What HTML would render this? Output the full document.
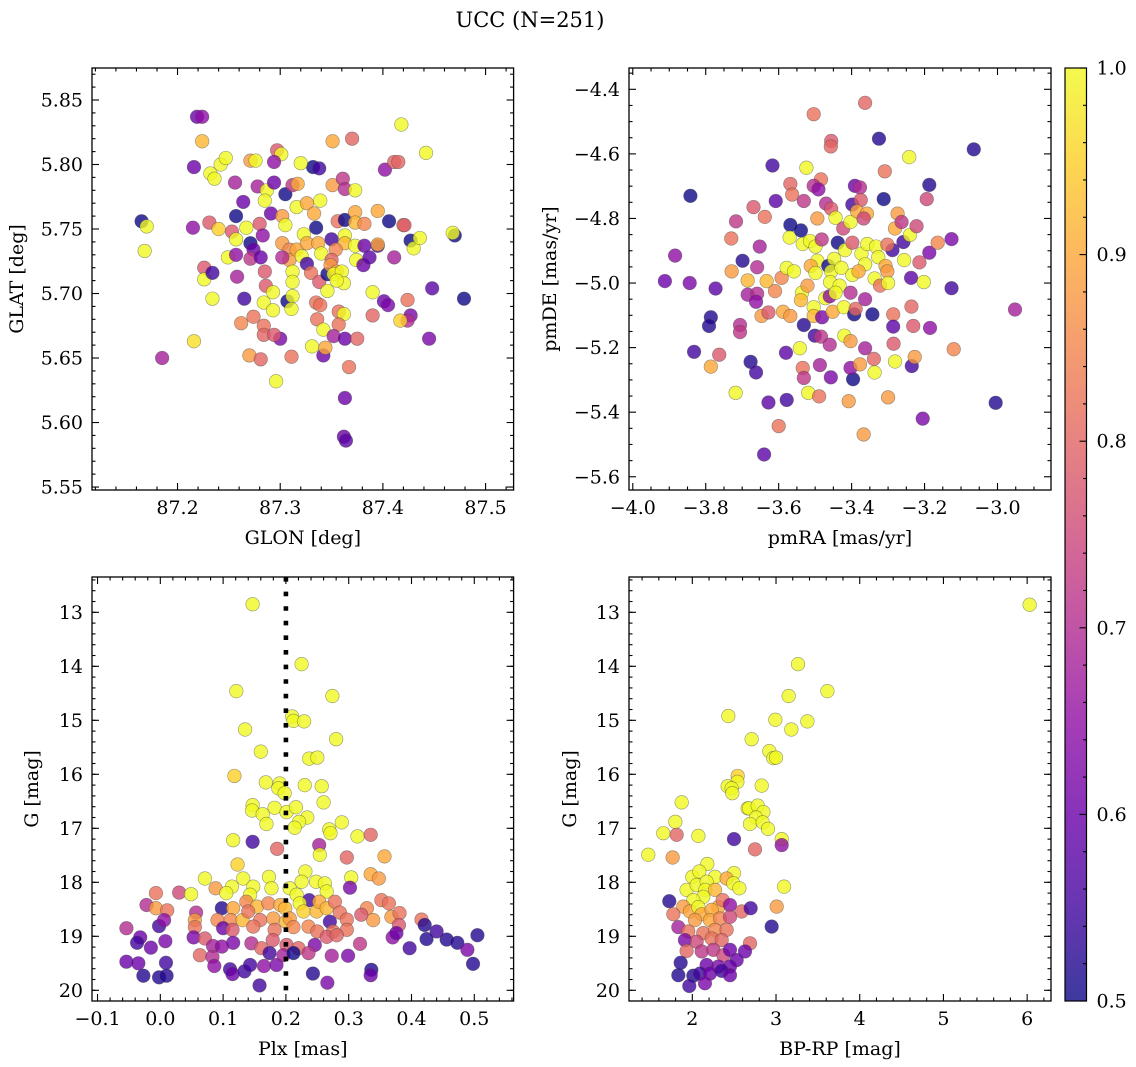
<!DOCTYPE html>
<html><head><meta charset="utf-8"><style>
html,body{margin:0;padding:0;background:#fff;}
svg{display:block;font-family:"DejaVu Serif","Liberation Serif",serif;}
</style></head><body>
<svg id="fig" width="1136" height="1067" viewBox="0 0 1136 1067" xmlns="http://www.w3.org/2000/svg">
<text x="530" y="27" font-size="21" text-anchor="middle">UCC (N=251)</text>
</svg>
<script>
// ---- Panel 1: GLON / GLAT ----
const p1Lon=[87.165,87.170,87.168,87.185,87.219,87.224,87.224,87.216,87.215,87.216,87.232,87.236,87.242,87.247,87.231,87.240,87.226,87.226,87.234,87.234,87.249,87.256,87.264,87.257,87.253,87.257,87.267,87.257,87.258,87.265,87.262,87.271,87.276,87.278,87.287,87.285,87.294,87.297,87.301,87.294,87.271,87.274,87.271,87.280,87.283,87.281,87.285,87.286,87.293,87.284,87.293,87.274,87.284,87.284,87.270,87.281,87.296,87.300,87.294,87.291,87.302,87.305,87.312,87.317,87.305,87.316,87.326,87.333,87.339,87.332,87.338,87.320,87.302,87.309,87.309,87.302,87.316,87.323,87.326,87.321,87.326,87.330,87.337,87.340,87.335,87.312,87.312,87.307,87.312,87.311,87.311,87.331,87.335,87.339,87.336,87.342,87.342,87.344,87.338,87.346,87.346,87.351,87.370,87.351,87.361,87.363,87.373,87.356,87.363,87.373,87.373,87.350,87.363,87.363,87.373,87.354,87.350,87.349,87.355,87.352,87.360,87.362,87.355,87.374,87.357,87.362,87.357,87.352,87.363,87.375,87.367,87.363,87.362,87.364,87.382,87.381,87.387,87.382,87.395,87.395,87.395,87.390,87.390,87.401,87.405,87.402,87.406,87.411,87.411,87.415,87.418,87.420,87.421,87.427,87.430,87.436,87.424,87.427,87.424,87.417,87.442,87.448,87.445,87.470,87.468,87.479];
const p1Lat=[5.756,5.752,5.733,5.650,5.837,5.837,5.818,5.798,5.751,5.663,5.793,5.789,5.800,5.805,5.755,5.750,5.720,5.711,5.716,5.696,5.728,5.786,5.771,5.760,5.748,5.742,5.751,5.730,5.713,5.696,5.677,5.803,5.803,5.783,5.780,5.772,5.786,5.811,5.808,5.802,5.739,5.734,5.727,5.754,5.745,5.728,5.717,5.706,5.701,5.693,5.687,5.682,5.675,5.668,5.652,5.649,5.632,5.665,5.668,5.762,5.760,5.777,5.784,5.785,5.753,5.767,5.770,5.762,5.772,5.798,5.797,5.801,5.739,5.734,5.726,5.728,5.734,5.746,5.739,5.729,5.723,5.716,5.739,5.731,5.751,5.717,5.709,5.694,5.698,5.688,5.651,5.659,5.693,5.691,5.680,5.672,5.652,5.658,5.709,5.715,5.702,5.818,5.820,5.784,5.789,5.781,5.780,5.756,5.757,5.763,5.755,5.742,5.745,5.739,5.737,5.734,5.726,5.722,5.717,5.715,5.717,5.708,5.710,5.726,5.686,5.684,5.676,5.667,5.665,5.665,5.643,5.619,5.589,5.586,5.737,5.722,5.728,5.754,5.764,5.737,5.738,5.701,5.683,5.694,5.691,5.796,5.756,5.728,5.802,5.802,5.831,5.753,5.753,5.741,5.735,5.743,5.695,5.683,5.679,5.679,5.809,5.704,5.665,5.745,5.747,5.696];
const p1C=[0.5,1,1,0.68,0.6,0.65,0.92,0.6,0.65,0.97,1,1,1,1,0.78,0.95,0.78,1,0.55,1,1,0.68,0.6,0.5,0.78,1,1,0.65,0.68,0.55,0.85,0.88,1,0.68,1,1,0.6,0.78,1,0.65,0.5,0.6,0.72,0.78,0.65,0.6,0.78,0.78,1,1,1,0.82,0.82,0.8,0.88,0.8,1,0.62,0.78,0.6,0.88,0.5,0.72,0.9,1,1,0.9,0.9,1,0.5,0.55,1,0.88,0.85,0.88,0.7,0.9,1,0.9,1,0.55,0.82,0.9,1,0.5,1,1,0.5,1,1,0.82,1,0.82,0.82,0.82,1,0.6,0.9,0.78,0.5,1,0.9,0.8,0.88,0.72,0.7,1,0.82,0.5,0.9,0.92,0.55,1,0.92,1,0.85,0.8,0.88,0.9,1,1,1,1,1,0.82,1,0.82,0.68,0.6,0.8,0.82,0.6,0.6,0.58,0.6,0.6,0.58,0.85,0.9,0.55,0.9,1,0.8,0.6,0.62,0.65,0.5,0.68,0.8,0.8,1,0.85,0.78,0.5,1,1,0.82,0.62,0.7,0.95,1,0.58,0.62,0.5,1,0.5];
const p1XTicks=[87.2,87.3,87.4,87.5];
const p1YTicks=[5.55,5.60,5.65,5.70,5.75,5.80,5.85];

// ---- Panel 2: pmRA / pmDE ----
const p2RA=[-3.912,-3.884,-3.842,-3.844,-3.832,-3.786,-3.791,-3.773,-3.786,-3.763,-3.718,-3.717,-3.730,-3.699,-3.729,-3.706,-3.706,-3.685,-3.685,-3.677,-3.662,-3.669,-3.638,-3.652,-3.659,-3.659,-3.662,-3.633,-3.647,-3.628,-3.610,-3.628,-3.617,-3.608,-3.600,-3.640,-3.592,-3.588,-3.568,-3.580,-3.578,-3.568,-3.563,-3.568,-3.570,-3.578,-3.558,-3.539,-3.531,-3.534,-3.536,-3.539,-3.531,-3.542,-3.534,-3.531,-3.519,-3.504,-3.524,-3.484,-3.504,-3.491,-3.494,-3.514,-3.499,-3.494,-3.512,-3.499,-3.521,-3.504,-3.504,-3.481,-3.501,-3.484,-3.487,-3.489,-3.456,-3.457,-3.470,-3.456,-3.482,-3.464,-3.472,-3.460,-3.452,-3.460,-3.457,-3.444,-3.438,-3.448,-3.456,-3.459,-3.433,-3.444,-3.423,-3.418,-3.428,-3.421,-3.420,-3.403,-3.398,-3.398,-3.403,-3.393,-3.396,-3.403,-3.408,-3.403,-3.391,-3.377,-3.398,-3.375,-3.385,-3.358,-3.367,-3.363,-3.367,-3.325,-3.312,-3.373,-3.357,-3.363,-3.381,-3.363,-3.389,-3.377,-3.363,-3.339,-3.337,-3.343,-3.333,-3.327,-3.337,-3.322,-3.307,-3.302,-3.300,-3.288,-3.302,-3.309,-3.300,-3.286,-3.286,-3.285,-3.281,-3.274,-3.281,-3.263,-3.258,-3.256,-3.240,-3.242,-3.222,-3.236,-3.231,-3.235,-3.227,-3.237,-3.214,-3.194,-3.187,-3.202,-3.187,-3.185,-3.205,-3.164,-3.126,-3.126,-3.120,-3.065,-3.005,-2.952];
const p2DE=[-4.994,-4.915,-4.730,-5.000,-5.213,-5.106,-5.133,-5.017,-5.259,-5.222,-5.340,-4.809,-4.862,-4.931,-4.964,-5.130,-5.152,-4.992,-5.036,-5.244,-5.277,-4.765,-4.795,-4.887,-4.951,-5.033,-5.058,-4.994,-5.102,-5.091,-5.025,-5.370,-4.636,-4.746,-5.443,-5.531,-4.984,-5.089,-5.102,-5.216,-5.362,-4.693,-4.726,-4.820,-4.859,-4.953,-4.964,-4.837,-4.746,-4.879,-5.030,-5.053,-5.130,-5.202,-5.263,-5.294,-5.340,-4.477,-4.643,-4.679,-4.699,-4.710,-4.800,-4.870,-4.887,-4.931,-4.947,-4.969,-5.008,-5.075,-5.102,-5.106,-5.163,-5.166,-5.254,-5.351,-4.560,-4.577,-4.754,-4.770,-4.865,-4.947,-5.047,-5.041,-5.089,-5.191,-5.292,-4.798,-4.875,-4.925,-4.964,-4.997,-5.008,-5.030,-4.831,-4.898,-4.953,-5.075,-5.163,-4.811,-4.875,-4.975,-5.030,-5.097,-5.298,-5.180,-5.366,-5.263,-4.699,-4.704,-4.757,-4.743,-4.778,-4.785,-4.800,-4.442,-5.469,-4.553,-4.740,-4.909,-4.879,-4.942,-4.964,-5.050,-5.080,-5.252,-5.202,-5.235,-5.277,-5.097,-4.887,-4.920,-4.986,-5.008,-4.947,-4.964,-5.000,-4.898,-4.881,-4.654,-5.354,-5.097,-5.135,-5.188,-5.243,-4.785,-4.831,-4.811,-4.873,-4.929,-4.851,-4.610,-4.824,-5.073,-5.133,-5.257,-5.229,-4.984,-4.936,-4.740,-4.696,-4.997,-4.906,-5.139,-5.420,-4.875,-4.864,-5.016,-5.205,-4.586,-5.371,-5.082];
const p2C=[0.6,0.65,0.5,0.62,0.55,0.52,0.52,0.58,0.9,0.78,1,0.72,0.82,0.52,0.88,0.7,0.72,0.92,0.68,0.52,0.55,0.78,0.82,0.68,0.7,0.7,0.65,0.92,0.88,0.78,0.85,0.58,0.55,0.58,0.82,0.58,0.85,0.9,0.88,0.58,0.55,0.8,0.82,0.5,1,1,1,0.5,0.72,1,1,0.92,0.52,1,0.82,0.72,1,0.82,1,0.82,0.7,0.65,0.88,1,1,1,0.9,1,0.88,1,0.92,0.62,0.55,0.72,0.68,0.82,0.78,0.8,0.7,0.78,0.72,0.5,1,0.65,0.9,0.7,0.62,1,0.5,1,1,1,1,1,0.75,1,1,1,1,1,0.78,1,0.7,0.5,0.5,0.88,0.88,0.65,0.6,0.7,0.55,0.78,0.9,0.9,0.75,0.8,0.88,0.52,0.5,1,1,1,0.9,0.68,0.8,0.88,0.68,0.8,1,0.5,1,1,1,0.82,0.9,0.88,1,0.55,0.82,0.82,0.88,0.82,0.58,0.78,1,0.88,0.9,0.72,0.55,1,1,1,0.75,0.8,0.78,0.55,0.88,0.58,0.78,0.75,0.52,1,0.62,0.65,0.62,0.85,0.62,0.55,0.85,0.52,0.52,0.68];
const p2XTicks=[-4.0,-3.8,-3.6,-3.4,-3.2,-3.0];
const p2YTicks=[-5.6,-5.4,-5.2,-5.0,-4.8,-4.6,-4.4];

// ---- Panel 3: Plx / G ----
const p3Plx=[0.147,0.225,0.121,0.274,0.210,0.212,0.229,0.135,0.280,0.160,0.237,0.250,0.118,0.168,0.190,0.188,0.198,0.230,0.257,0.260,0.147,0.146,0.182,0.201,0.216,0.163,0.169,0.234,0.221,0.214,0.289,0.269,0.271,0.314,0.335,0.116,0.147,0.186,0.253,0.254,0.297,0.357,0.123,0.231,0.335,0.071,0.132,0.173,0.225,0.304,0.348,0.088,0.114,0.148,0.177,0.206,0.248,0.262,0.302,-0.007,0.030,0.049,0.105,0.143,0.217,0.265,0.237,-0.022,-0.007,0.011,0.098,0.116,0.137,0.154,0.172,0.191,0.199,0.222,0.228,0.249,0.253,0.265,0.278,0.286,0.352,0.364,0.329,0.057,0.055,0.091,0.112,0.131,0.140,0.159,0.180,0.200,0.206,0.270,0.297,0.339,0.368,0.381,0.416,-0.054,-0.002,0.006,0.055,0.100,0.115,0.148,0.182,0.212,0.236,0.250,0.275,0.297,0.320,0.380,0.421,0.440,-0.032,-0.037,-0.015,0.008,0.053,0.071,0.084,0.098,0.116,0.145,0.161,0.179,0.201,0.220,0.246,0.265,0.281,0.318,0.370,0.376,0.397,0.424,0.456,0.473,0.489,0.505,-0.054,-0.035,0.009,0.063,0.083,0.086,0.111,0.115,0.134,0.143,0.165,0.174,0.185,0.196,0.212,0.236,0.273,0.299,0.498,-0.027,-0.002,0.010,0.158,0.243,0.266,0.336,0.335];
const p3G=[12.85,13.96,14.46,14.55,14.93,15.01,15.02,15.17,15.35,15.58,15.71,15.69,16.03,16.15,16.17,16.26,16.35,16.20,16.22,16.52,16.57,16.67,16.62,16.70,16.61,16.74,16.92,16.80,16.88,16.99,16.89,17.02,17.09,17.15,17.12,17.22,17.25,17.38,17.31,17.49,17.54,17.52,17.67,17.80,17.85,17.93,17.93,17.90,17.99,17.91,17.93,18.11,18.08,18.08,18.11,18.11,17.99,18.02,18.10,18.20,18.19,18.22,18.20,18.23,18.23,18.17,18.33,18.42,18.48,18.52,18.48,18.48,18.36,18.45,18.39,18.42,18.48,18.39,18.54,18.54,18.36,18.48,18.36,18.56,18.33,18.39,18.48,18.56,18.70,18.70,18.70,18.70,18.54,18.70,18.67,18.73,18.67,18.73,18.69,18.70,18.64,18.57,18.69,18.85,18.81,18.70,18.83,18.85,18.88,18.82,18.88,18.83,18.82,18.91,18.91,18.88,18.60,18.79,18.79,18.91,19.02,19.12,19.21,19.09,19.02,19.04,19.18,19.19,19.12,19.13,19.22,19.07,19.16,19.22,19.16,19.01,18.98,19.14,19.02,18.94,19.22,19.05,19.06,19.12,19.25,18.98,19.47,19.50,19.49,19.35,19.38,19.55,19.61,19.70,19.65,19.53,19.55,19.31,19.53,19.35,19.31,19.31,19.36,19.36,19.51,19.73,19.76,19.73,19.91,19.69,19.86,19.62,19.72];
const p3C=[1,1,1,1,1,1,1,1,1,1,1,1,0.95,1,1,1,1,1,1,1,1,1,1,1,1,1,1,1,1,1,1,1,1,1,0.8,1,0.55,0.8,0.68,1,0.8,0.9,0.95,1,0.9,1,1,1,1,1,0.88,0.88,1,1,1,1,1,1,0.62,0.82,0.75,1,1,1,1,1,0.55,0.7,0.88,0.82,0.52,0.9,0.85,0.92,0.85,0.9,0.92,1,0.95,0.92,0.9,0.92,0.82,0.82,0.82,0.82,0.85,0.7,0.88,0.85,0.85,0.92,0.82,0.82,0.88,0.92,0.88,0.55,0.82,0.88,0.88,0.82,0.82,0.7,0.55,0.65,0.82,0.6,0.78,0.82,0.82,0.85,0.85,0.82,0.82,0.82,0.78,0.78,0.52,0.55,0.6,0.55,0.6,0.62,0.62,0.78,0.68,0.65,0.62,0.7,0.8,0.78,0.78,0.8,0.62,0.78,0.8,0.72,0.65,0.6,0.55,0.52,0.52,0.52,0.62,0.52,0.6,0.6,0.55,0.8,0.7,0.65,0.55,0.6,0.55,0.55,0.65,0.55,0.62,0.68,0.5,0.72,0.68,0.62,0.52,0.52,0.52,0.52,0.55,0.52,0.62,0.52,0.6];
const p3XTicks=[-0.1,0.0,0.1,0.2,0.3,0.4,0.5];
const p3YTicks=[13,14,15,16,17,18,19,20];
const p3PlxLine=0.2;

// ---- Panel 4: BP-RP / G ----
const p4BR=[3.263,3.614,3.151,2.430,2.992,3.375,3.183,2.709,2.920,2.968,3.000,2.542,2.538,2.422,2.470,2.478,2.829,1.873,2.661,2.677,2.781,2.849,2.761,2.689,2.841,2.904,1.797,1.653,2.072,1.813,2.498,3.068,1.474,1.765,2.179,2.000,2.084,2.271,2.498,2.410,2.490,2.562,3.096,1.932,2.052,2.171,2.155,2.271,2.131,2.012,2.311,1.725,1.892,1.972,2.072,2.112,2.231,2.363,2.450,2.590,2.697,3.008,1.773,2.032,2.211,2.331,2.450,1.833,1.952,2.131,2.271,2.410,2.948,1.912,2.052,2.231,2.351,2.689,1.932,2.112,2.251,2.371,2.450,2.629,2.530,1.861,2.171,2.311,2.450,1.833,2.012,2.092,2.211,2.351,2.450,1.964,2.151,2.749,3.068,6.03];
const p4G=[13.96,14.46,14.55,14.92,14.99,15.02,15.17,15.35,15.57,15.70,15.69,16.03,16.14,16.22,16.26,16.35,16.21,16.52,16.63,16.63,16.58,16.70,16.80,16.92,16.89,17.01,16.88,17.09,17.14,17.12,17.20,17.20,17.49,17.54,17.66,17.90,17.80,17.90,17.83,17.93,18.02,18.11,18.08,18.14,18.05,17.99,18.14,18.14,18.27,18.33,18.46,18.35,18.45,18.54,18.46,18.59,18.51,18.33,18.42,18.54,18.48,18.45,18.59,18.70,18.70,18.67,18.64,18.83,18.91,18.94,18.88,18.88,18.82,19.07,19.10,19.04,19.07,19.13,19.27,19.28,19.25,19.35,19.25,19.28,19.44,19.49,19.53,19.56,19.56,19.72,19.73,19.69,19.69,19.64,19.72,19.92,19.87,17.39,17.31,12.86];
const p4C=[1,1,1,1,1,1,1,1,1,1,1,0.95,1,1,1,1,1,1,1,1,1,1,1,1,1,1,1,1,1,0.8,0.55,1,1,0.88,1,1,1,1,1,0.9,1,1,1,1,1,1,1,0.92,1,1,0.9,0.52,0.88,0.9,1,0.9,0.9,0.82,0.65,0.8,0.55,0.88,0.82,0.88,0.9,0.85,0.75,0.68,0.82,0.82,0.85,0.82,0.52,0.62,0.75,0.82,0.8,0.8,0.8,0.72,0.72,0.75,0.6,0.6,0.6,0.52,0.6,0.62,0.6,0.52,0.52,0.55,0.6,0.55,0.6,0.55,0.62,0.8,0.65,1];
const p4XTicks=[2,3,4,5,6];
const p4YTicks=[13,14,15,16,17,18,19,20];

const cbTicks=[0.5,0.6,0.7,0.8,0.9,1.0];

const FS=19;
const NS="http://www.w3.org/2000/svg";
const svg=document.getElementById('fig');
function mk(tag,attrs,parent){const e=document.createElementNS(NS,tag);for(const k in attrs)e.setAttribute(k,attrs[k]);(parent||svg).appendChild(e);return e;}
const PL=[[13,8,135],[65,4,157],[106,0,168],[143,13,164],[177,42,144],[204,71,120],[225,100,98],[242,132,75],[252,166,54],[252,206,37],[240,249,33]];
function plasma(v){let t=(v-0.5)/0.5;t=Math.max(0,Math.min(1,t));const f=t*10,i=Math.min(9,Math.floor(f)),r=f-i;const a=PL[i],b=PL[i+1];return 'rgb('+a.map((c,k)=>Math.round(c+(b[k]-c)*r)).join(',')+')';}
function fmt(v,d){const s=Math.abs(v).toFixed(d);return (v<-1e-9?'\u2212':'')+s;}

function panel(id,box,xd,yd,xs,ys,xTicks,xMinor,yTicks,yMinor,xdec,ydec,xlab,ylab,ylabX){
  const g=mk('g',{});
  
  
  const [x0,y0,x1,y1]=box;
  const sx=v=>x0+(v-xd[0])/(xd[1]-xd[0])*(x1-x0);
  const sy=v=>y1-(v-yd[0])/(yd[1]-yd[0])*(y1-y0);
  return {g,sx,sy,finish:function(){
    const ax=mk('g',{},g);
    
    
    mk('rect',{x:x0,y:y0,width:x1-x0,height:y1-y0,fill:'none',stroke:'#000','stroke-width':1.3},ax);
    const lo=Math.ceil(xd[0]/xMinor-1e-6),hi=Math.floor(xd[1]/xMinor+1e-6);
    for(let k=lo;k<=hi;k++){const v=k*xMinor,X=sx(v);const maj=xTicks.some(t=>Math.abs(t-v)<xMinor/3);const L=maj?7:3.5;
      mk('line',{x1:X,x2:X,y1:y1,y2:y1-L,stroke:'#000','stroke-width':1.1},ax);mk('line',{x1:X,x2:X,y1:y0,y2:y0+L,stroke:'#000','stroke-width':1.1},ax);}
    const lo2=Math.ceil(yd[0]/yMinor-1e-6),hi2=Math.floor(yd[1]/yMinor+1e-6);
    for(let k=lo2;k<=hi2;k++){const v=k*yMinor,Y=sy(v);const maj=yTicks.some(t=>Math.abs(t-v)<yMinor/3);const L=maj?7:3.5;
      mk('line',{x1:x0,x2:x0+L,y1:Y,y2:Y,stroke:'#000','stroke-width':1.1},ax);mk('line',{x1:x1,x2:x1-L,y1:Y,y2:Y,stroke:'#000','stroke-width':1.1},ax);}
    xTicks.forEach(v=>{const t=mk('text',{x:sx(v),y:y1+24,'font-size':FS,'text-anchor':'middle'},ax);t.textContent=fmt(v,xdec);
      
      });
    yTicks.forEach(v=>{const t=mk('text',{x:x0-9,y:sy(v)+6.5,'font-size':FS,'text-anchor':'end'},ax);t.textContent=fmt(v,ydec);
      
      });
    const xl=mk('text',{x:(x0+x1)/2,y:y1+54,'font-size':FS,'text-anchor':'middle'},ax);xl.textContent=xlab;
    
    
    const yl=mk('text',{x:0,y:0,'font-size':FS,'text-anchor':'middle',transform:'translate('+ylabX+','+((y0+y1)/2)+') rotate(-90)'},ax);yl.textContent=ylab;
    
    
  }};
}
function scatter(p,xs,ys,cs,name){
  const pts=mk('g',{},p.g);
  
  
  for(let i=0;i<xs.length;i++){
    const c=mk('circle',{cx:p.sx(xs[i]),cy:p.sy(ys[i]),r:6.8,fill:plasma(cs[i]),'fill-opacity':0.8,stroke:'rgba(70,70,70,0.55)','stroke-width':0.6},pts);
    
    
  }
}
const P1=panel('panel-glon-glat',[92,68,513.6,490],[87.1167,87.5273],[5.5477,5.8748],null,null,p1XTicks,0.02,p1YTicks,0.01,1,2,'GLON [deg]','GLAT [deg]',23);
scatter(P1,p1Lon,p1Lat,p1C,'glon-glat');P1.finish();
const P2=panel('panel-pm',[629,68,1051,490],[-4.0104,-2.8533],[-5.641,-4.334],null,null,p2XTicks,0.05,p2YTicks,0.05,1,1,'pmRA [mas/yr]','pmDE [mas/yr]',556);
scatter(P2,p2RA,p2DE,p2C,'pm');P2.finish();
const P3=panel('panel-plx-g',[92,577,513.6,1001],[-0.1088,0.5626],[-20.198,-12.346],null,null,p3XTicks,0.02,[],0.2,1,0,'Plx [mas]','G [mag]',38);
const P3b={g:P3.g,sx:P3.sx,sy:v=>P3.sy(-v)};
scatter(P3b,p3Plx,p3G,p3C,'plx-g');
const dl=mk('line',{x1:P3.sx(p3PlxLine),x2:P3.sx(p3PlxLine),y1:577,y2:1001,stroke:'#000','stroke-width':4.6,'stroke-dasharray':'4.6 10'},P3.g);


P3.finish();
const P4=panel('panel-cmd',[629,577,1051,1001],[1.2437,6.285],[-20.198,-12.346],null,null,p4XTicks,0.2,[],0.2,0,0,'BP-RP [mag]','G [mag]',576);
const P4b={g:P4.g,sx:P4.sx,sy:v=>P4.sy(-v)};
scatter(P4b,p4BR,p4G,p4C,'cmd');P4.finish();
[[P3,p3YTicks,92,513.6],[P4,p4YTicks,629,1051]].forEach(([P,T,x0,x1])=>{
  T.forEach(v=>{const Y=P.sy(-v);
    mk('line',{x1:x0,x2:x0+7,y1:Y,y2:Y,stroke:'#000','stroke-width':1.1},P.g);
    mk('line',{x1:x1,x2:x1-7,y1:Y,y2:Y,stroke:'#000','stroke-width':1.1},P.g);
    const t=mk('text',{x:x0-9,y:Y+6.5,'font-size':FS,'text-anchor':'end'},P.g);t.textContent=String(v);
    
    });
});
const cb=mk('g',{});


const defs=mk('defs',{},cb);const lg=mk('linearGradient',{id:'pg',x1:0,y1:1,x2:0,y2:0},defs);
for(let i=0;i<=10;i++)mk('stop',{offset:i/10,'stop-color':plasma(0.5+i*0.05)},lg);
const cbx0=1065,cbx1=1086.5,cby0=68,cby1=1001;
mk('rect',{x:cbx0,y:cby0,width:cbx1-cbx0,height:cby1-cby0,fill:'url(#pg)','fill-opacity':0.8},cb);
mk('rect',{x:cbx0,y:cby0,width:cbx1-cbx0,height:cby1-cby0,fill:'none',stroke:'#000','stroke-width':1.2},cb);
const cy=v=>cby1-(v-0.5)/0.5*(cby1-cby0);
for(let k=25;k<=50;k++){const v=k*0.02,Y=cy(v);const maj=cbTicks.some(t=>Math.abs(t-v)<0.005);
  mk('line',{x1:cbx1,x2:cbx1-(maj?7:3.5),y1:Y,y2:Y,stroke:'#000','stroke-width':1.1},cb);}
cbTicks.forEach(v=>{const t=mk('text',{x:cbx1+10,y:cy(v)+6.5,'font-size':FS},cb);t.textContent=v.toFixed(1);
  
  });
</script>
</body></html>
